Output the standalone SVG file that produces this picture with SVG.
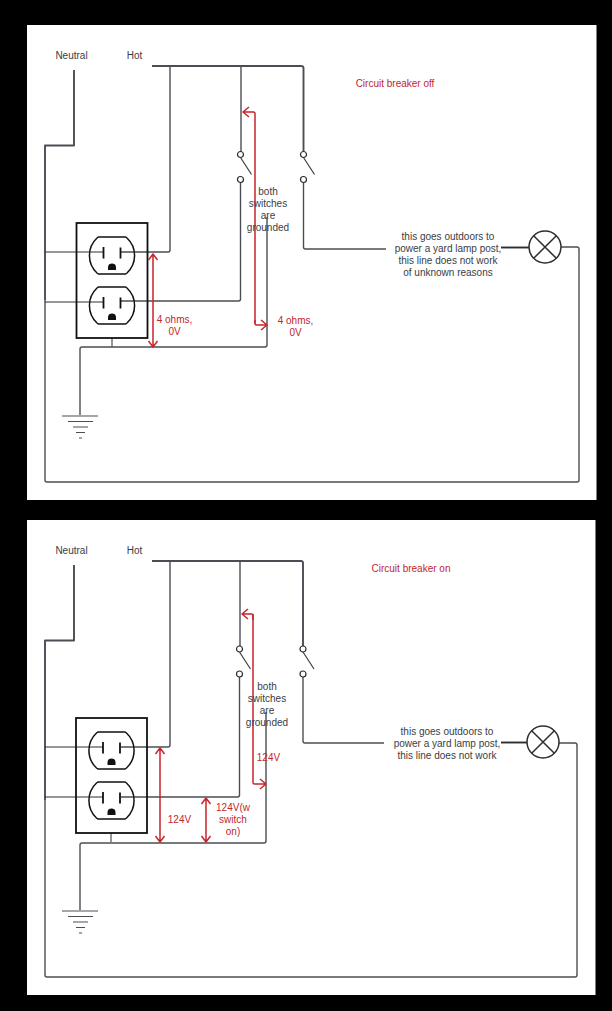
<svg xmlns="http://www.w3.org/2000/svg" xmlns:xlink="http://www.w3.org/1999/xlink" width="612" height="1011" viewBox="0 0 612 1011">
<style>
text{font-family:"Liberation Sans",Arial,sans-serif;font-size:10px;text-anchor:middle;fill:#3a3d42}
text.r{fill:#c0272d}
.w{fill:none;stroke:#4a4e54;stroke-width:1.4;stroke-linejoin:round}
.h{stroke-width:1.9}
.t{stroke-width:1}
.d{stroke:#2c2e31}
.red{fill:none;stroke:#c8252c;stroke-width:1.5;stroke-linejoin:round}
.o{fill:#fff;stroke:#2a2c2f;stroke-width:1.2}
</style>
<defs>
<g id="outlet">
<path d="M-13.500-18.500H13.500L15-17.500A24 24 0 0 1 15 17.500L13.500 18.500H-13.500L-15 17.500A24 24 0 0 1-15-17.500Z" fill="none" stroke="#111" stroke-width="1.500"/>
<path d="M-8.500-8.500V3M8.500-8V3" stroke="#111" stroke-width="1.800" fill="none"/>
<path d="M-4 14.500V11.500C-4 9-2 8 0 8C2 8 4 9 4 11.500V14.500Z" fill="#111"/>
</g>
<g id="ground">
<path d="M-18 0H18M-12 5.500H13M-7 11H8M-4 16.500H5M-1 22H2" stroke="#4a4e54" stroke-width="1.100" fill="none"/>
</g>
<g id="lamp">
<circle r="16" fill="#fff" stroke="#2c2e31" stroke-width="1.500"/>
<path d="M-11.300-11.300L11.300 11.300M-11.300 11.300L11.300-11.300" stroke="#2c2e31" stroke-width="1.500"/>
</g>
<g id="switch">
<path d="M0 3L11 20" stroke="#3a3d42" stroke-width="1.200" fill="none"/>
<circle r="3" class="o"/>
<circle cy="25" r="3" class="o"/>
</g>
</defs>
<rect width="612" height="1011" fill="#000"/>
<rect x="27" y="25" width="569.500" height="475" fill="#fff"/>
<rect x="27" y="520" width="568.500" height="475" fill="#fff"/>

<g id="connectors">
<path class="w h" d="M74 70V145.500H45V300"/>
<path class="w" d="M45 300V480Q45 482 47 482H577Q579 482 579 480V249Q579 247 577 247H561"/>
<path class="w h" d="M152 66H301Q303.500 66 303.500 68V151.500"/>
<path class="w" d="M170 66V250Q170 252 168 252H121"/>
<path class="w t d" d="M45 252H103"/>
<path class="w" d="M241 66V151.500M240.500 182.500V299Q240.500 301 238.500 301H121"/>
<path class="w t d" d="M45 302H103"/>
<path class="w" d="M303.500 182.500V247Q303.500 249 305.500 249H386"/>
<path class="w h d" d="M501 247.500H529"/>
<path class="w t d" d="M112 338V347"/>
<path class="w" d="M80 415V349Q80 347 82 347H265Q267 347 267 345V217"/>
<path class="w h" d="M74 565V640.500H45V800"/>
<path class="w" d="M45 800V975Q45 977 47 977H575Q577 977 577 975V745Q577 743 575 743H559"/>
<path class="w h" d="M152 561H301Q303 561 303 563V646"/>
<path class="w" d="M170 561V745Q170 747 168 747H121"/>
<path class="w t d" d="M45 747H103"/>
<path class="w" d="M240 561V646M239.500 677V795Q239.500 797 237.500 797H121"/>
<path class="w t d" d="M45 797H103"/>
<path class="w" d="M303 677V741Q303 743 305 743H384"/>
<path class="w h d" d="M501 742.500H527"/>
<path class="w t d" d="M111 833V842"/>
<path class="w" d="M80 910V845Q80 843 82 843H264Q266 843 266 841V712"/>
</g>

<g id="receptacle-top">
<rect x="76.500" y="223" width="71" height="115" style="fill:none;stroke-width:1.800;stroke:#111"/>
<use xlink:href="#outlet" href="#outlet" x="112" y="255.500"/>
<use xlink:href="#outlet" href="#outlet" x="112" y="305.500"/>
</g>
<g id="ground-top"><use xlink:href="#ground" href="#ground" x="80" y="416"/></g>
<g id="switch-top-1"><use xlink:href="#switch" href="#switch" x="240.500" y="154.500"/></g>
<g id="switch-top-2"><use xlink:href="#switch" href="#switch" x="303.500" y="154.500"/></g>
<g id="lamp-top"><use xlink:href="#lamp" href="#lamp" x="545" y="247"/></g>

<g id="receptacle-bottom">
<rect x="76" y="718" width="71" height="115" style="fill:none;stroke-width:1.800;stroke:#111"/>
<use xlink:href="#outlet" href="#outlet" x="111.500" y="750.500"/>
<use xlink:href="#outlet" href="#outlet" x="111.500" y="800.500"/>
</g>
<g id="ground-bottom"><use xlink:href="#ground" href="#ground" x="80" y="911"/></g>
<g id="switch-bottom-1"><use xlink:href="#switch" href="#switch" x="239.500" y="649"/></g>
<g id="switch-bottom-2"><use xlink:href="#switch" href="#switch" x="303" y="649"/></g>
<g id="lamp-bottom"><use xlink:href="#lamp" href="#lamp" x="543" y="742"/></g>

<g id="red-arrows">
<path class="red" d="M255 323.500V113.500Q255 112 253.500 112H243M249 107L243 112L249 117"/>
<path class="red" d="M255 320V323.500Q255 325 256.500 325H267M261 320L267 325L261 330"/>
<path class="red" d="M153 254V347M148.500 260L153 254L157.500 260M148.500 341L153 347L157.500 341"/>
<path class="red" d="M253 620V615.500Q253 614 251.500 614H242M248 609L242 614L248 619"/>
<path class="red" d="M253 614V782.500Q253 784 254.500 784H266M260 779L266 784L260 789"/>
<path class="red" d="M160 748V842M155.500 754L160 748L164.500 754M155.500 836L160 842L164.500 836"/>
<path class="red" d="M206 798V842M201.500 804L206 798L210.500 804M201.500 836L206 842L210.500 836"/>
</g>

<g id="labels-top">
<text x="71.500" y="58.500">Neutral</text>
<text x="134.500" y="58.500">Hot</text>
<text class="r" x="395" y="86.500">Circuit breaker off</text>
<text x="268" y="195">both</text>
<text x="268" y="207">switches</text>
<text x="268" y="219">are</text>
<text x="268" y="231">grounded</text>
<text class="r" x="174.500" y="323">4 ohms,</text>
<text class="r" x="174.500" y="335">0V</text>
<text class="r" x="295.500" y="324">4 ohms,</text>
<text class="r" x="295.500" y="336">0V</text>
<text x="448" y="239.500">this goes outdoors to</text>
<text x="448" y="251.500">power a yard lamp post,</text>
<text x="448" y="263.500">this line does not work</text>
<text x="448" y="275.500">of unknown reasons</text>
</g>
<g id="labels-bottom">
<text x="71.500" y="553.500">Neutral</text>
<text x="134.500" y="553.500">Hot</text>
<text class="r" x="411" y="571.500">Circuit breaker on</text>
<text x="267" y="690">both</text>
<text x="267" y="702">switches</text>
<text x="267" y="714">are</text>
<text x="267" y="726">grounded</text>
<text class="r" x="268.500" y="760.500">124V</text>
<text class="r" x="179.500" y="822.500">124V</text>
<text class="r" x="233" y="810.500">124V(w</text>
<text class="r" x="233" y="822.500">switch</text>
<text class="r" x="233" y="834.500">on)</text>
<text x="447" y="734.500">this goes outdoors to</text>
<text x="447" y="746.500">power a yard lamp post,</text>
<text x="447" y="758.500">this line does not work</text>
</g>
</svg>
